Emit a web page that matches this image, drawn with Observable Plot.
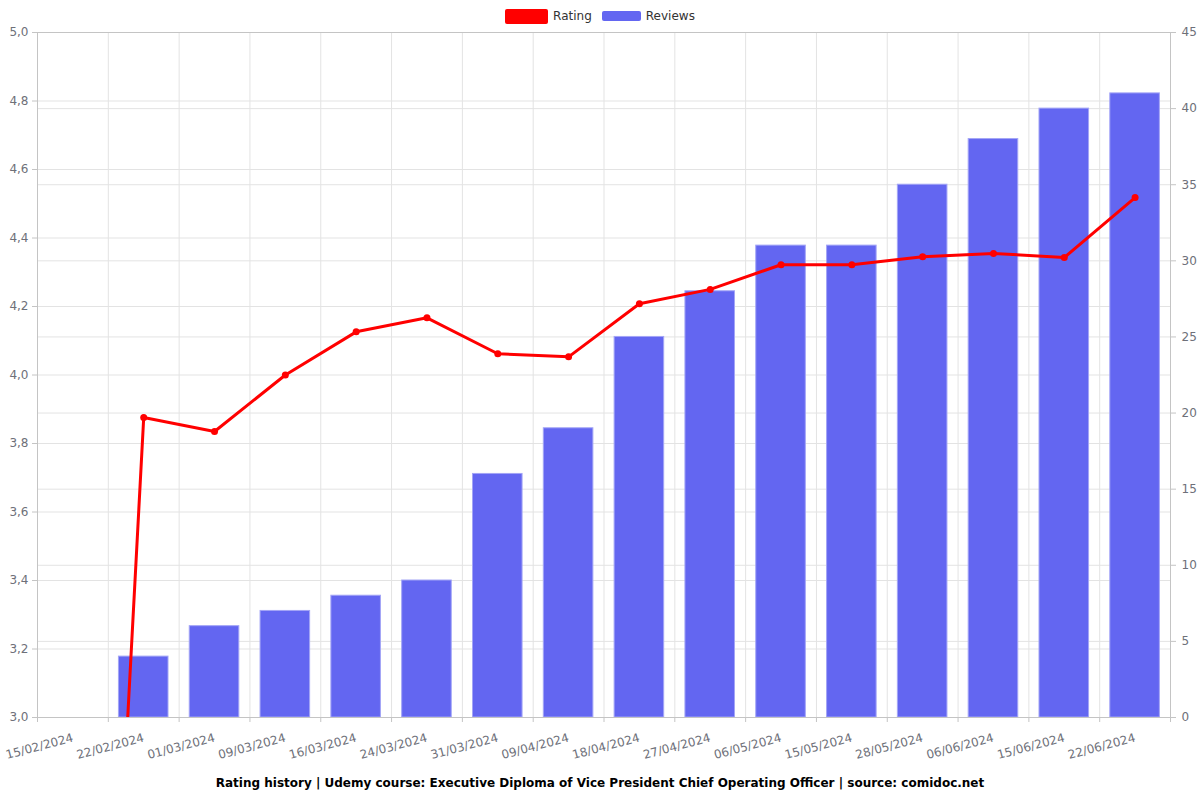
<!DOCTYPE html>
<html>
<head>
<meta charset="utf-8">
<script src="https://cdn.jsdelivr.net/npm/d3@7"></script>
<script src="https://cdn.jsdelivr.net/npm/@observablehq/plot@0.6"></script>
<style>
  html, body { margin: 0; padding: 0; background: #fff; overflow: hidden; }
  body { width: 1200px; height: 800px; font-family: "DejaVu Sans", sans-serif; }
  #legend { height: 24px; display: flex; justify-content: center; align-items: center; font-size: 12px; color: #333; padding-top: 8px; box-sizing: border-box; }
  .item { display: flex; align-items: center; margin: 0 5px; }
  .sw { display: inline-block; margin-right: 5px; border-radius: 2px; }
  #chart svg { display: block; max-width: none; }
  #caption { text-align: center; font-weight: bold; font-size: 12px; line-height: 18px; color: #000; }
</style>
</head>
<body>
<div id="legend">
  <div class="item"><span class="sw" style="width:43px;height:15px;background:#ff0000"></span>Rating</div>
  <div class="item"><span class="sw" style="width:39px;height:10px;background:rgb(99,102,241)"></span>Reviews</div>
</div>
<div id="chart"></div>
<div id="caption">Rating history | Udemy course: Executive Diploma of Vice President Chief Operating Officer | source: comidoc.net</div>
<script>
const dates = ["15/02/2024","22/02/2024","01/03/2024","09/03/2024","16/03/2024","24/03/2024","31/03/2024","09/04/2024","18/04/2024","27/04/2024","06/05/2024","15/05/2024","28/05/2024","06/06/2024","15/06/2024","22/06/2024"];
const ratings = [0, 3.876, 3.835, 4.0, 4.126, 4.167, 4.062, 4.053, 4.208, 4.25, 4.322, 4.322, 4.345, 4.355, 4.343, 4.518];
const reviews = [0, 4, 6, 7, 8, 9, 16, 19, 25, 28, 31, 31, 35, 38, 40, 41];
const ratingTicks = [3.0, 3.2, 3.4, 3.6, 3.8, 4.0, 4.2, 4.4, 4.6, 4.8, 5.0];
const reviewTicks = [0, 5, 10, 15, 20, 25, 30, 35, 40, 45];

const ratingMin = 3, ratingMax = 5, reviewMax = 45;
const toReviewSpace = r => (r - ratingMin) / (ratingMax - ratingMin) * reviewMax;
const fromReviewSpace = p => ratingMin + p / reviewMax * (ratingMax - ratingMin);

const data = dates.map((d, i) => ({date: d, rating: ratings[i], reviews: reviews[i]}));

const W = 1200, ML = 37, MR = 30;
const step = (W - ML - MR) / dates.length;
const gridColor = "#e3e3e3";
const axisColor = "#c4c4c4";
const labelColor = "#6e7079";

const chart = Plot.plot({
  width: W,
  height: 750,
  marginLeft: ML,
  marginRight: MR,
  marginTop: 8,
  marginBottom: 57,
  style: {fontFamily: "DejaVu Sans, sans-serif", fontSize: "12px", background: "#fff"},
  x: {type: "band", domain: dates, paddingInner: 0.3, paddingOuter: 0.15, round: false},
  y: {domain: [0, reviewMax]},
  marks: [
    Plot.ruleY(ratingTicks.map(toReviewSpace), {stroke: gridColor}),
    Plot.ruleY(reviewTicks, {stroke: gridColor}),
    Plot.ruleX(dates, {x: d => d, dx: -step / 2, stroke: gridColor}),
    Plot.barY(data, {x: "date", y: "reviews", fill: "rgb(99,102,241)", stroke: "#a3a5f6", strokeWidth: 1}),
    Plot.frame({stroke: axisColor}),
    Plot.lineY(data, {x: "date", y: d => toReviewSpace(d.rating), stroke: "#ff0000", strokeWidth: 3, clip: true}),
    Plot.dot(data, {x: "date", y: d => toReviewSpace(d.rating), r: 3.5, fill: "#ff0000", stroke: "none", clip: true}),
    Plot.axisY(ratingTicks.map(toReviewSpace), {anchor: "left", tickSize: 5, tickPadding: 4, stroke: axisColor, fill: labelColor,
      tickFormat: p => fromReviewSpace(p).toFixed(1).replace(".", ","), label: null}),
    Plot.axisY(reviewTicks, {anchor: "right", tickSize: 5, tickPadding: 6, stroke: axisColor, fill: labelColor, label: null}),
    Plot.axisX(dates, {tickSize: 5, dx: -step / 2, tickFormat: () => "", stroke: axisColor, label: null}),
    Plot.axisX([dates[dates.length - 1]], {tickSize: 5, dx: step / 2, tickFormat: () => "", stroke: axisColor, label: null}),
    Plot.axisX(dates, {tickSize: 0, tickPadding: 14, dy: 6, tickRotate: -15, fill: labelColor, label: null})
  ]
});
document.getElementById("chart").appendChild(chart);
</script>
</body>
</html>
